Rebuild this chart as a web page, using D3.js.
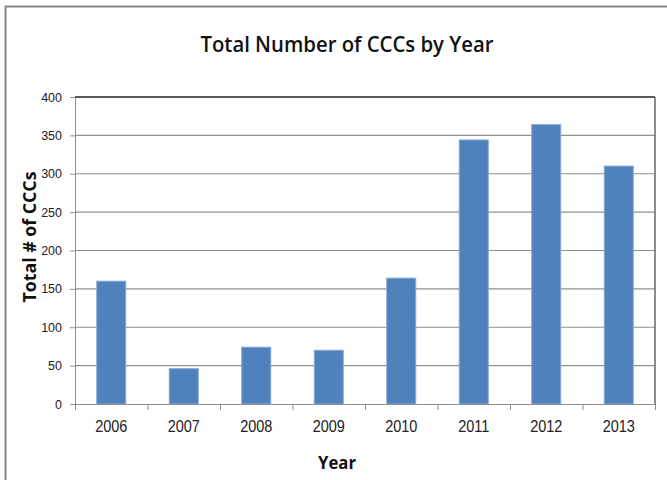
<!DOCTYPE html>
<html>
<head>
<meta charset="utf-8">
<script src="https://cdn.jsdelivr.net/npm/d3@7"></script>
<style>
  body { margin: 0; background: #fff; }
  svg { display: block; }
</style>
</head>
<body>
<div id="chart"></div>
<script>
// Data
var years = ["2006", "2007", "2008", "2009", "2010", "2011", "2012", "2013"];
var totals = [160, 46, 74, 70, 164, 344, 364, 310];
var yTicks = [0, 50, 100, 150, 200, 250, 300, 350, 400];

var W = 667, H = 480;
var margin = {top: 97, right: 12, bottom: 76, left: 75},
    width = W - margin.left - margin.right,
    height = H - margin.top - margin.bottom;

var svg = d3.select("#chart")
    .append("svg")
    .attr("width", W)
    .attr("height", H);

// Outer chart border (cropped at right and bottom)
svg.append("path")
    .attr("d", "M5.5," + H + "V6.5H" + W)
    .attr("fill", "none")
    .attr("stroke", "#858585")
    .attr("stroke-width", 2);

// Title
svg.append("text")
    .attr("x", 347)
    .attr("y", 52)
    .attr("text-anchor", "middle")
    .attr("textLength", 293)
    .attr("lengthAdjust", "spacingAndGlyphs")
    .style("font-family", "'Open Sans', sans-serif")
    .style("font-weight", 600)
    .style("font-size", "22px")
    .style("fill", "#111")
    .text("Total Number of CCCs by Year");

var g = svg.append("g")
    .attr("transform", "translate(" + margin.left + "," + margin.top + ")");

var x = d3.scaleBand()
    .domain(years)
    .range([0, width])
    .paddingInner(0.6)
    .paddingOuter(0.3);

var y = d3.scaleLinear()
    .domain([0, 400])
    .range([height, 0]);

// Gridlines
g.append("g")
    .selectAll("line")
    .data(yTicks.filter(function (d) { return d > 0 && d < 400; }))
    .enter()
    .append("line")
    .attr("x1", 0)
    .attr("x2", width)
    .attr("y1", function (d) { return y(d); })
    .attr("y2", function (d) { return y(d); })
    .attr("stroke", "#8f8f8f")
    .attr("stroke-width", 1.2);

// Plot area top and right border
g.append("line")
    .attr("x1", 0).attr("x2", width)
    .attr("y1", y(400)).attr("y2", y(400))
    .attr("stroke", "#222")
    .attr("stroke-width", 1.3);
g.append("line")
    .attr("x1", width).attr("x2", width)
    .attr("y1", y(400)).attr("y2", height)
    .attr("stroke", "#666")
    .attr("stroke-width", 1.5);

// Bars
g.selectAll("rect.bar")
    .data(totals)
    .enter()
    .append("rect")
    .attr("class", "bar")
    .attr("x", function (d, i) { return x(years[i]); })
    .attr("width", x.bandwidth())
    .attr("y", function (d) { return y(d); })
    .attr("height", function (d) { return height - y(d); })
    .attr("fill", "#4f81bd")
    .attr("stroke", "#86a7d3")
    .attr("stroke-width", 1);

// Y axis
var yAxis = g.append("g")
    .call(d3.axisLeft(y).tickValues(yTicks).tickSize(5).tickPadding(8));
yAxis.select(".domain").attr("stroke", "#8f8f8f");
yAxis.selectAll(".tick line").attr("stroke", "#8f8f8f");
yAxis.selectAll("text")
    .style("font-family", "'Liberation Sans', Arial, sans-serif")
    .style("font-size", "12.5px")
    .style("fill", "#222");

// X axis: boundary ticks
var xb = d3.scaleLinear().domain([0, years.length]).range([0, width]);
var xTickAxis = g.append("g")
    .attr("transform", "translate(0," + height + ")")
    .call(d3.axisBottom(xb).tickValues(d3.range(years.length + 1)).tickSize(6).tickFormat(""));
xTickAxis.select(".domain").attr("stroke", "#8f8f8f");
xTickAxis.selectAll(".tick line").attr("stroke", "#8f8f8f");

// X axis: category labels
var xLab = g.append("g")
    .attr("transform", "translate(0," + height + ")")
    .call(d3.axisBottom(x).tickSize(0));
xLab.select(".domain").remove();
xLab.selectAll("text")
    .attr("y", 28 / 1.2)
    .attr("dy", 0)
    .attr("transform", "scale(1,1.2)")
    .style("font-family", "'Liberation Sans', Arial, sans-serif")
    .style("font-size", "14.5px")
    .style("fill", "#222");

// Axis titles
svg.append("text")
    .attr("transform", "translate(36,237) rotate(-90)")
    .attr("text-anchor", "middle")
    .attr("textLength", 131)
    .attr("lengthAdjust", "spacingAndGlyphs")
    .style("font-family", "'Open Sans', sans-serif")
    .style("font-weight", 700)
    .style("font-size", "17px")
    .style("fill", "#111")
    .text("Total # of CCCs");

svg.append("text")
    .attr("x", 337)
    .attr("y", 469)
    .attr("text-anchor", "middle")
    .attr("textLength", 38)
    .attr("lengthAdjust", "spacingAndGlyphs")
    .style("font-family", "'Open Sans', sans-serif")
    .style("font-weight", 700)
    .style("font-size", "17px")
    .style("fill", "#111")
    .text("Year");
</script>
</body>
</html>
